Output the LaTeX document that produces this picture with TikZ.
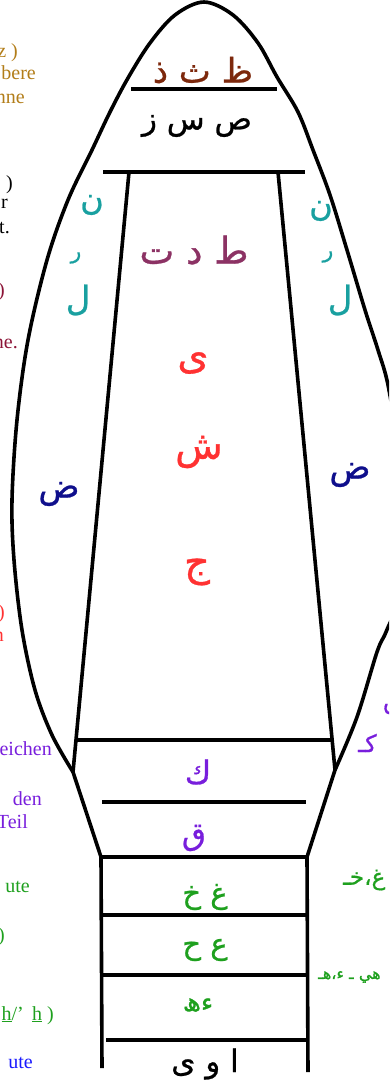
\documentclass[tikz,border=0pt]{standalone}
\usepackage{fontspec}
\setmainfont{Liberation Serif}
\newfontfamily\arfont[Script=Arabic,FakeBold=0.8]{DejaVu Sans}
\TeXXeTstate=1
\definecolor{cBrown}{RGB}{125,40,12}
\definecolor{cGold}{RGB}{178,125,25}
\definecolor{cMaroon}{RGB}{140,50,100}
\definecolor{cRed}{RGB}{255,50,50}
\definecolor{cTeal}{RGB}{25,160,160}
\definecolor{cNavy}{RGB}{15,15,140}
\definecolor{cPurple}{RGB}{120,30,220}
\definecolor{cGreen}{RGB}{30,160,30}
\definecolor{cBlue}{RGB}{25,25,255}
\definecolor{cDRed}{RGB}{140,20,55}
\newcommand{\arsz}[1]{\arfont\fontsize{#1}{#1}\selectfont}
\tikzset{
  shp/.style={line width=3.6pt, black},
  ltxt/.style={anchor=base east, inner sep=0pt, font=\fontsize{20}{22}\selectfont},
  rtxt/.style={anchor=west, inner sep=0pt},
  ctxt/.style={anchor=center, inner sep=0pt}
}
\begin{document}
\begin{tikzpicture}[x=1pt,y=-1pt]
\useasboundingbox (0,0) rectangle (389,1081);
\clip (0,0) rectangle (389,1081);
% outer bulb
\draw[shp] plot[smooth, tension=0.55] coordinates {(73,772) (52,735) (35,690) (22,630) (14,560) (12,500) (17,420) (28,340) (47,260) (68,200) (92,150) (110,112) (128,78) (150,43) (175,15) (204,2) (233,15) (258,43) (277,77) (298,112) (313,150) (330,195) (347,250) (365,310) (378,350) (388,385) (398,450) (402,530) (397,600) (386,632) (377,652) (357,717) (335,770)};
% coordinates
\coordinate (il0) at (129,172);
\coordinate (ir0) at (278,172);
\coordinate (jl) at (73,772);
\coordinate (jr) at (335,770);
\coordinate (ltl) at (101,857);
\coordinate (ltr) at (307,857);
\coordinate (lbl) at (102,1068);
\coordinate (lbr) at (308,1072);
% lines
\draw[shp] (131,89) -- (277,89);
\draw[shp] (103,172) -- (305,172);
\draw[shp] (il0) -- (jl) -- (ltl) -- (lbl);
\draw[shp] (ir0) -- (jr) -- (ltr) -- (lbr);
\draw[shp] (75,740) -- (333,740);
\draw[shp] (102,802) -- (306,802);
\draw[shp] (ltl) -- (308,857);
\draw[shp] (103,915) -- (308,915);
\draw[shp] (103,975) -- (308,975);
\draw[shp] (106,1040) -- (308,1040);
% Arabic letters
\node[ctxt, text=cBrown] (t1) at (203,70) {\arsz{34}\beginR ظ ث ذ\endR};
\node[ctxt, text=black] (t2) at (197,126) {\arsz{31}\beginR ص س ز\endR};
\node[ctxt, text=cMaroon] (t3) at (194,250) {\arsz{37}\beginR ط د ت\endR};
\node[ctxt, text=cRed] (t4) at (193,363) {\arsz{40}\beginR ی\endR};
\node[ctxt, text=cRed] (t5) at (199,452) {\arsz{39}\beginR ش\endR};
\node[ctxt, text=cRed] (t6) at (197,572) {\arsz{40}\beginR ج\endR};
\node[ctxt, text=cTeal] (n1) at (92,205) {\arsz{32}\beginR ن\endR};
\node[ctxt, text=cTeal] (r1) at (76,258) {\arsz{22}\beginR ر\endR};
\node[ctxt, text=cTeal] (l1) at (78,300) {\arsz{34}\beginR ل\endR};
\node[ctxt, text=cTeal] (n2) at (321,211) {\arsz{32}\beginR ن\endR};
\node[ctxt, text=cTeal] (r2) at (328,257) {\arsz{22}\beginR ر\endR};
\node[ctxt, text=cTeal] (l2) at (340,300) {\arsz{34}\beginR ل\endR};
\node[ctxt, text=cNavy] (d1) at (59,494) {\arsz{34}\beginR ض\endR};
\node[ctxt, text=cNavy] (d2) at (350,475) {\arsz{34}\beginR ض\endR};
\node[ctxt, text=cPurple] (k1) at (198,772) {\arsz{32}\beginR ك\endR};
\node[ctxt, text=cPurple] (q1) at (194,838) {\arsz{31}\beginR ق\endR};
\node[ctxt, text=cGreen] (g1) at (205,897) {\arsz{29}\beginR غ خ\endR};
\node[ctxt, text=cGreen] (g2) at (205,950) {\arsz{29}\beginR ع ح\endR};
\node[ctxt, text=cGreen] (g3) at (198,1005) {\arsz{26}\beginR ءھ\endR};
\node[ctxt, text=black] (b1) at (205,1064) {\arsz{31}\beginR ا و ی\endR};
% right fragments
\node[rtxt, text=cPurple] (f1) at (383,704) {\arsz{24}\beginR ق\endR};
\node[rtxt, text=cPurple] (f2) at (358,743) {\arsz{24}\beginR کـ\endR};
\node[rtxt, text=cGreen] (f3) at (343,880) {\arsz{23}\beginR غ،خـ\endR};
\node[rtxt, text=cGreen] (f4) at (318,977) {\arsz{16}\beginR هي ـ ء،هـ\endR};
% left fragments
\node[ltxt, text=cGold] (a1) at (18,57) {z )};
\node[ltxt, text=cGold] (a2) at (36,80) {bere};
\node[ltxt, text=cGold] (a3) at (25,103) {nne};
\node[ltxt, text=black] (a4) at (13,189) {)};
\node[ltxt, text=black] (a5) at (8,208) {r};
\node[ltxt, text=black] (a6) at (10,233) {t.};
\node[ltxt, text=cDRed] (a7) at (5,296) {)};
\node[ltxt, text=cDRed] (a8) at (18,348) {ne.};
\node[ltxt, text=cRed] (a9) at (5,618) {)};
\node[ltxt, text=cRed] (a10) at (4,641) {n};
\node[ltxt, text=cPurple] (a11) at (52,755) {eichen};
\node[ltxt, text=cPurple] (a12) at (42,805) {den};
\node[ltxt, text=cPurple] (a13) at (28,828) {Teil};
\node[ltxt, text=cGreen] (a14) at (30,892) {ute};
\node[ltxt, text=cGreen] (a15) at (5,941) {)};
\node[ltxt, text=cGreen] (a16) at (54,1020) {\underline{h}/’\, \underline{h} )};
\node[ltxt, text=cBlue] (a17) at (33,1068) {ute};
\end{tikzpicture}
\end{document}
